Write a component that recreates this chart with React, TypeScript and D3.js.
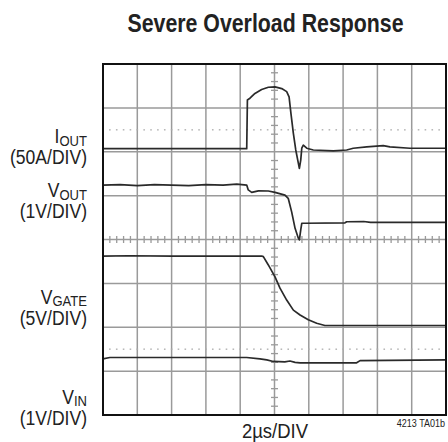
import * as d3 from "d3";

// time in µs (2µs/DIV), level in screen divisions from the centre line
const iOut: [number, number][] = [
  [-10, 2.07], [-1.62, 2.07], [-1.58, 3.18], [-1.43, 3.22], [-1.14, 3.33], [-0.75, 3.42],
  [-0.36, 3.47], [0.03, 3.48], [0.42, 3.44], [0.71, 3.37], [0.85, 3.25], [0.96, 2.87],
  [1.1, 2.42], [1.24, 2.04], [1.39, 1.74], [1.45, 1.62], [1.53, 1.81], [1.59, 2.08],
  [1.68, 2.15], [1.88, 2.08], [2.26, 2.04], [3.43, 2.02], [4.21, 2.04], [4.59, 2.08],
  [5.38, 2.11], [6.34, 2.14], [6.73, 2.11], [7.9, 2.08], [10, 2.08],
];

const vOut: [number, number][] = [
  [-10, 1.24], [-9.0, 1.25], [-8.0, 1.23], [-7.0, 1.25], [-6.0, 1.24], [-5.0, 1.23],
  [-4.0, 1.25], [-3.0, 1.24], [-2.2, 1.26], [-1.62, 1.24], [-1.53, 1.13], [-1.33, 1.075],
  [-0.94, 1.11], [-0.36, 1.105], [0.03, 1.075], [0.61, 1.01], [0.8, 0.94], [1.0, 0.63],
  [1.2, 0.255], [1.39, 0.03], [1.45, -0.01], [1.53, 0.22], [1.59, 0.37], [1.78, 0.37],
  [4.11, 0.38], [4.21, 0.405], [5.2, 0.41], [5.6, 0.39], [10, 0.39],
];

const vGate: [number, number][] = [
  [-10, -0.38], [-8.5, -0.37], [-6, -0.38], [-0.75, -0.376], [-0.65, -0.39], [-0.36, -0.58],
  [0.03, -0.85], [0.32, -1.11], [0.71, -1.38], [1.1, -1.61], [1.49, -1.72], [1.97, -1.83],
  [2.46, -1.91], [2.94, -1.96], [10, -1.96],
];

const vIn: [number, number][] = [
  [-10, -2.72], [-9.6, -2.69], [-1.62, -2.69], [-0.85, -2.72], [-0.45, -2.745],
  [-0.07, -2.78], [0.6, -2.79], [0.9, -2.77], [1.2, -2.8], [1.49, -2.81], [4.79, -2.81],
  [4.99, -2.76], [10, -2.745],
];

const traces = [iOut, vOut, vGate, vIn];
const refLevels = [2.5, -2.5];

const labels = [
  { main: "I", sub: "OUT", scale: "(50A/DIV)", y: 143 },
  { main: "V", sub: "OUT", scale: "(1V/DIV)", y: 197 },
  { main: "V", sub: "GATE", scale: "(5V/DIV)", y: 303.5 },
  { main: "V", sub: "IN", scale: "(1V/DIV)", y: 403.5 },
];

const title = "Severe Overload Response";
const xLabel = "2µs/DIV";
const figId = "4213 TA01b";

const font = "'Liberation Sans', Arial, sans-serif";

// condensed text: horizontal squeeze around the anchor point
function Narrow({ x, y, sx, children, ...rest }: any) {
  return (
    <g transform={`translate(${x},${y}) scale(${sx},1)`}>
      <text x={0} y={0} fontFamily={font} fill="#222" {...rest}>
        {children}
      </text>
    </g>
  );
}

export default function App() {
  const x = d3.scaleLinear().domain([-10, 10]).range([103, 446]);
  const y = d3.scaleLinear().domain([-4, 4]).range([415, 64]);
  const line = d3
    .line<[number, number]>()
    .x((d) => x(d[0]))
    .y((d) => y(d[1]));

  const xGrid = d3.range(-8, 9, 2);
  const yGrid = d3.range(-3, 4, 1);
  const xMinor = d3.range(-10, 10.001, 0.4).filter((t) => {
    const r = Math.abs(t % 2);
    return r > 0.01 && r < 1.99;
  });
  const yMinor = d3.range(-4, 4.001, 0.2).filter((v) => Math.abs(v - Math.round(v)) > 0.01);
  const dots = d3.range(-10, 10.001, 0.4);

  const grey = "#9a9a9a";

  return (
    <svg
      width={448}
      height={442}
      style={{ position: "absolute", left: 0, top: 0, background: "#fff" }}
    >
      <Narrow x={265.5} y={32} sx={0.82} textAnchor="middle" fontWeight="bold" fontSize={26}>
        {title}
      </Narrow>

      {xGrid.map((t) => (
        <line key={"gx" + t} x1={x(t)} x2={x(t)} y1={y(4)} y2={y(-4)} stroke={grey} strokeWidth={1.5} />
      ))}
      {yGrid.map((v) => (
        <line key={"gy" + v} x1={x(-10)} x2={x(10)} y1={y(v)} y2={y(v)} stroke={grey} strokeWidth={1.5} />
      ))}
      {yMinor.map((v) => (
        <line key={"ty" + v} x1={x(0) - 3.5} x2={x(0) + 3.5} y1={y(v)} y2={y(v)} stroke={grey} strokeWidth={1.3} />
      ))}
      {xMinor.map((t) => (
        <line key={"tx" + t} x1={x(t)} x2={x(t)} y1={y(0) - 3.5} y2={y(0) + 3.5} stroke={grey} strokeWidth={1.3} />
      ))}
      {refLevels.map((v) =>
        dots.map((t) => (
          <line key={"d" + v + t} x1={x(t) - 0.8} x2={x(t) + 0.8} y1={y(v)} y2={y(v)} stroke="#aaa" strokeWidth={1.3} />
        ))
      )}

      {traces.map((tr, i) => (
        <path key={"tr" + i} d={line(tr) ?? ""} fill="none" stroke="#2a2a2a" strokeWidth={1.7} strokeLinejoin="round" />
      ))}

      <rect x={x(-10)} y={y(4)} width={x(10) - x(-10)} height={y(-4) - y(4)} fill="none" stroke="#111" strokeWidth={2} />

      {labels.map((l) => (
        <g key={l.sub + l.y}>
          <Narrow x={87} y={l.y} sx={0.9} textAnchor="end" fontSize={19.5}>
            {l.main}
            <tspan fontSize={14.5} dy={2.5}>{l.sub}</tspan>
          </Narrow>
          <Narrow x={87} y={l.y + 21} sx={0.9} textAnchor="end" fontSize={19.5}>
            {l.scale}
          </Narrow>
        </g>
      ))}

      <Narrow x={275} y={438} sx={0.88} textAnchor="middle" fontSize={21}>
        {xLabel}
      </Narrow>
      <Narrow x={445} y={426.5} sx={0.9} textAnchor="end" fontSize={10}>
        {figId}
      </Narrow>
    </svg>
  );
}
